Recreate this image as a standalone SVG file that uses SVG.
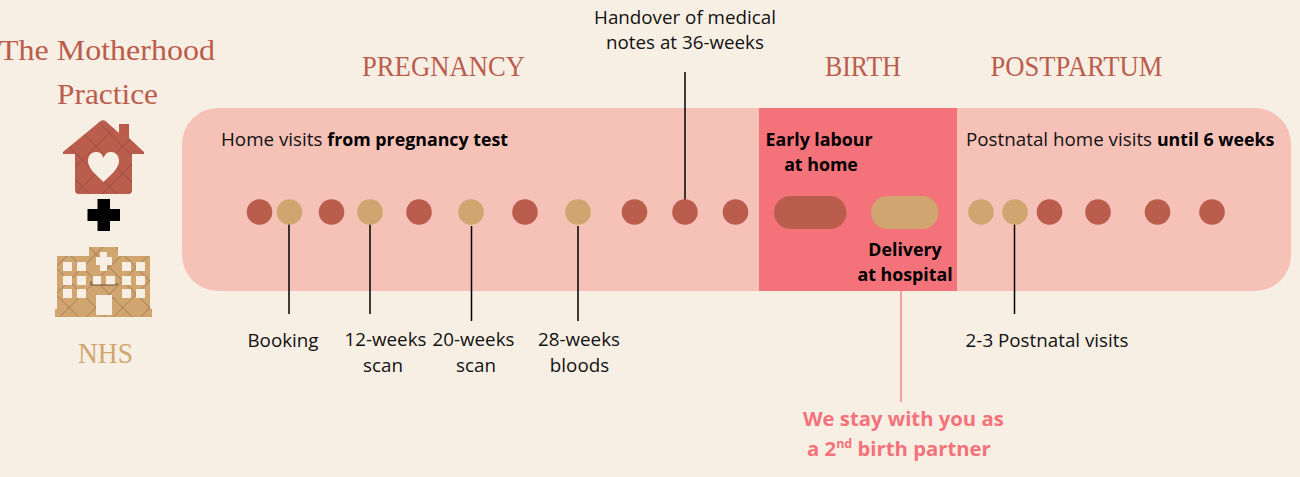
<svg xmlns="http://www.w3.org/2000/svg" width="1300" height="477" viewBox="0 0 1300 477">
<style>
text{font-family:"Open Sans","Noto Sans",sans-serif;font-size:18.800px;fill:#111;text-anchor:middle}
.b{font-weight:700;font-size:17.800px;fill:#000}
.s{text-anchor:start}
.h{font-family:"Liberation Serif",serif;font-size:30px}
.r{fill:#bb5d4d}
.t{fill:#d0a56f}
.l{stroke:#000;stroke-width:1.500;fill:none}
.p{fill:#f4727a;font-weight:700;font-size:20.300px;text-anchor:start}
</style>
<defs>
<pattern id="hatch" width="19" height="19" patternUnits="userSpaceOnUse" patternTransform="rotate(45 103 150)">
<path d="M0 0H19M0 0V19" stroke="#4a2c24" stroke-width="1" opacity=".5" fill="none"/>
</pattern>
</defs>
<rect width="1300" height="477" fill="#f8efe4"/>
<g id="band">
<rect x="182" y="108" width="1109" height="183" rx="36" fill="#f6c1b7"/>
<rect x="759" y="108" width="198" height="183" fill="#f4727a"/>
</g>
<g id="connectors">
<path class="l" d="M289 222V314M370 222V314M471.500 226V321M578 226V321M685 72V200M1014.500 224V314"/>
<path d="M901 291V402" stroke="#f4727a" stroke-width="1.300" fill="none"/>
</g>
<g id="dots">
<circle class="r" cx="259.500" cy="212" r="12.800"/>
<circle class="t" cx="289.500" cy="212" r="12.800"/>
<circle class="r" cx="331.500" cy="212" r="12.800"/>
<circle class="t" cx="370" cy="212" r="12.800"/>
<circle class="r" cx="419" cy="212" r="12.800"/>
<circle class="t" cx="471" cy="212" r="12.800"/>
<circle class="r" cx="525" cy="212" r="12.800"/>
<circle class="t" cx="578" cy="212" r="12.800"/>
<circle class="r" cx="634.500" cy="212" r="12.800"/>
<circle class="r" cx="685" cy="212" r="12.800"/>
<circle class="r" cx="735.500" cy="212" r="12.800"/>
<rect class="r" x="774" y="196" width="72.500" height="33" rx="16.500"/>
<rect class="t" x="871" y="196" width="67.500" height="33" rx="16.500"/>
<circle class="t" cx="981" cy="212" r="12.800"/>
<circle class="t" cx="1015" cy="212" r="12.800"/>
<circle class="r" cx="1049.500" cy="212" r="12.800"/>
<circle class="r" cx="1098" cy="212" r="12.800"/>
<circle class="r" cx="1157.500" cy="212" r="12.800"/>
<circle class="r" cx="1212" cy="212" r="12.800"/>
</g>
<g id="headings">
<text class="h" x="107" y="59.500" style="fill:#bb5d4d;font-size:30px" textLength="216" lengthAdjust="spacingAndGlyphs">The Motherhood</text>
<text class="h" x="107.500" y="103.500" style="fill:#bb5d4d;font-size:30px" textLength="101" lengthAdjust="spacingAndGlyphs">Practice</text>
<text class="h" x="105.500" y="363" style="fill:#d0a56f" textLength="55" lengthAdjust="spacingAndGlyphs">NHS</text>
<text class="h" x="443.500" y="76" style="fill:#bb5d4d" textLength="163" lengthAdjust="spacingAndGlyphs">PREGNANCY</text>
<text class="h" x="863" y="76" style="fill:#bb5d4d" textLength="76" lengthAdjust="spacingAndGlyphs">BIRTH</text>
<text class="h" x="1076.500" y="76" style="fill:#bb5d4d" textLength="172" lengthAdjust="spacingAndGlyphs">POSTPARTUM</text>
</g>
<g id="icon-house">
<path d="M100 121.500Q103 119 106 121.500L119 133V124H129V138L144 152V154H132V190Q132 194 128 194H79Q75 194 75 190V154H63V152Z M103.500 182C95 174 88 168 88 161C88 155 92 152 96 152C100 152 102 154 103.500 158C105 154 107 152 111 152C115 152 119 155 119 161C119 168 112 174 103.500 182Z" fill="#bb5d4d" fill-rule="evenodd"/>
<path d="M100 121.500Q103 119 106 121.500L119 133V124H129V138L144 152V154H132V190Q132 194 128 194H79Q75 194 75 190V154H63V152Z M103.500 182C95 174 88 168 88 161C88 155 92 152 96 152C100 152 102 154 103.500 158C105 154 107 152 111 152C115 152 119 155 119 161C119 168 112 174 103.500 182Z" fill="url(#hatch)" fill-rule="evenodd"/>
</g>
<g id="icon-plus"><path d="M97.500 199H110V209H120V221H110V231H97.500V221H87.500V209H97.500Z" fill="#000"/></g>
<g id="icon-hospital">
<path d="M89 247H118V256H150V309H152V317H55V309H57V256H89Z" fill="#d0a56f"/>
<path d="M89 247H118V256H150V309H152V317H55V309H57V256H89Z" fill="url(#hatch)"/>
<g fill="#f8efe4">
<path d="M100 252H107V257H112V265H107V271H100V265H96V257H100Z"/>
<rect x="63" y="262" width="9" height="9"/><rect x="77" y="262" width="9" height="9"/><rect x="122" y="262" width="9" height="9"/><rect x="136" y="262" width="9" height="9"/>
<rect x="63" y="276" width="9" height="9"/><rect x="77" y="276" width="9" height="9"/><rect x="93" y="276" width="8" height="9"/><rect x="106" y="276" width="9" height="9"/><rect x="122" y="276" width="9" height="9"/><rect x="136" y="276" width="9" height="9"/>
<rect x="63" y="289" width="9" height="9"/><rect x="77" y="289" width="9" height="9"/><rect x="122" y="289" width="9" height="9"/><rect x="136" y="289" width="9" height="9"/>
<rect x="96" y="295" width="16" height="20"/>
</g>
<path d="M91 281V285H117V283" stroke="#6b4a35" stroke-width="1" fill="none"/>
</g>
<g id="labels">
<text x="685" y="24">Handover of medical</text>
<text x="685" y="49">notes at 36-weeks</text>
<text class="s" x="221" y="146">Home visits <tspan class="b">from pregnancy test</tspan></text>
<text class="s" x="966" y="146">Postnatal home visits <tspan class="b">until 6 weeks</tspan></text>
<text class="b" x="819" y="146">Early labour</text>
<text class="b" x="821" y="171">at home</text>
<text class="b" x="905" y="256">Delivery</text>
<text class="b" x="905" y="281">at hospital</text>
<text x="283" y="347">Booking</text>
<text x="385.500" y="346">12-weeks</text>
<text x="383" y="372">scan</text>
<text x="473.500" y="346">20-weeks</text>
<text x="476" y="372">scan</text>
<text x="579" y="346">28-weeks</text>
<text x="579.500" y="372">bloods</text>
<text x="1047" y="347">2-3 Postnatal visits</text>
<text class="p" x="803" y="426">We stay with you as</text>
<text class="p" x="807" y="456">a 2<tspan dy="-8" font-size="12.500">nd</tspan><tspan dy="8"> birth partner</tspan></text>
</g>
</svg>
